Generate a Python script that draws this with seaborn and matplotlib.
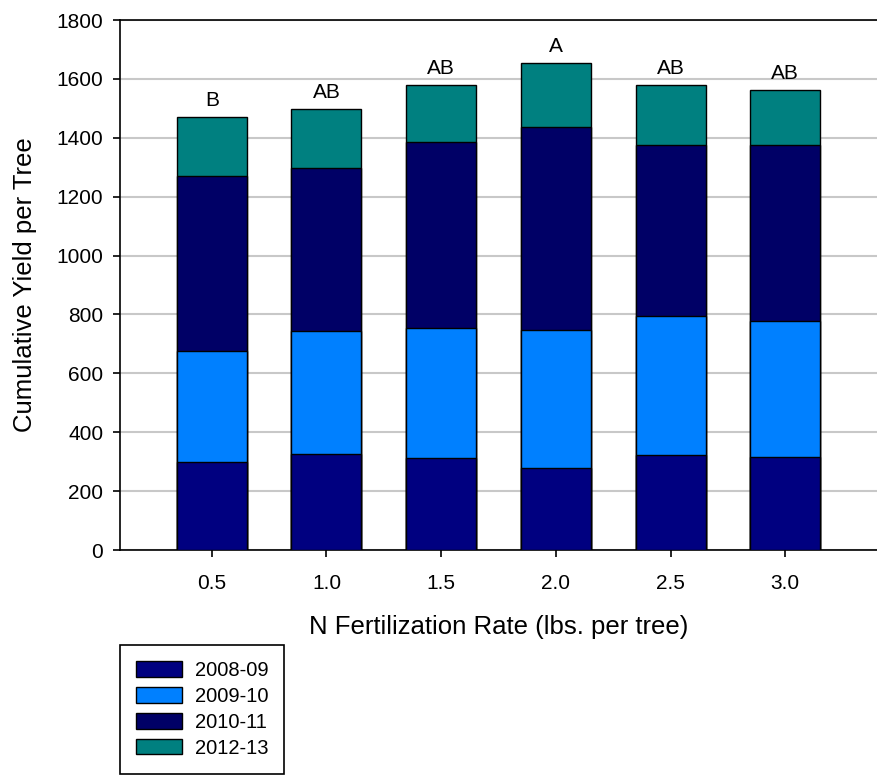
import matplotlib
matplotlib.use("Agg")
import matplotlib.pyplot as plt
import numpy as np
import pandas as pd
import seaborn as sns
from matplotlib.patches import Patch

# values
rates = ["0.5", "1.0", "1.5", "2.0", "2.5", "3.0"]
seasons = ["2008-09", "2009-10", "2010-11", "2012-13"]
yield_0809 = [298, 326, 312, 277, 323, 317]
yield_0910 = [378, 417, 441, 469, 473, 462]
yield_1011 = [594, 553, 633, 689, 580, 597]
yield_1213 = [200, 203, 193, 220, 204, 186]
letters = ["B", "AB", "AB", "A", "AB", "AB"]

colors = ["#000080", "#0080ff", "#000066", "#008080"]

sns.set_style("ticks")
plt.rcParams["font.family"] = ["Liberation Sans", "DejaVu Sans"]
plt.rcParams["text.color"] = "black"
plt.rcParams["axes.labelcolor"] = "black"
plt.rcParams["xtick.color"] = "black"
plt.rcParams["ytick.color"] = "black"

layers = np.array([yield_0809, yield_0910, yield_1011, yield_1213], dtype=float)
cumulative = layers.cumsum(axis=0)

df = pd.DataFrame({
    "rate": np.tile(rates, len(seasons)),
    "season": np.repeat(seasons, len(rates)),
    "cum": cumulative.ravel(),
})

fig = plt.figure(figsize=(8.77, 7.75), dpi=100)
ax = fig.add_axes([120 / 877, 1 - 550 / 775, 1 - 120 / 877, (550 - 20) / 775])

# stacked bars: draw the running totals from the top layer down
for season, color in reversed(list(zip(seasons, colors))):
    sub = df[df["season"] == season]
    sns.barplot(data=sub, x="rate", y="cum", order=rates, color=color,
                width=0.61, edgecolor="black", linewidth=1.0, saturation=1,
                errorbar=None, ax=ax, zorder=3)

totals = cumulative[-1]
for i, (tot, lab) in enumerate(zip(totals, letters)):
    ax.annotate(lab, (i, tot), xytext=(0, 5), textcoords="offset points",
                ha="center", va="bottom", fontsize=15)

ax.set_xlim(-0.8, 5.8)
ax.set_ylim(0, 1800)
ax.set_yticks(range(0, 1801, 200))
ax.yaxis.grid(True, color="#c8c8c8", linewidth=1.5, zorder=0)
ax.set_axisbelow(True)

for side in ["left", "bottom", "top"]:
    ax.spines[side].set_color("black")
    ax.spines[side].set_linewidth(1.2)
ax.spines["right"].set_visible(False)
ax.tick_params(axis="both", direction="out", length=5, width=1.2,
               color="black", labelsize=15)
ax.tick_params(axis="y", pad=7)
ax.tick_params(axis="x", pad=12)

ax.set_xlabel("N Fertilization Rate (lbs. per tree)", fontsize=18.5, labelpad=16)
ax.set_ylabel("Cumulative Yield per Tree", fontsize=18.5, labelpad=14)

handles = [Patch(facecolor=c, edgecolor="black", linewidth=1.0) for c in colors]
leg = fig.legend(handles, seasons, loc="upper left",
                 bbox_to_anchor=(120 / 877, 1 - 645 / 775), borderaxespad=0,
                 fontsize=14.5, handlelength=2.3, handleheight=0.8,
                 handletextpad=0.6, labelspacing=0.34, borderpad=0.8,
                 fancybox=False, framealpha=1)
leg.get_frame().set_edgecolor("black")
leg.get_frame().set_linewidth(1.2)

fig.savefig("out.png", dpi=100)
